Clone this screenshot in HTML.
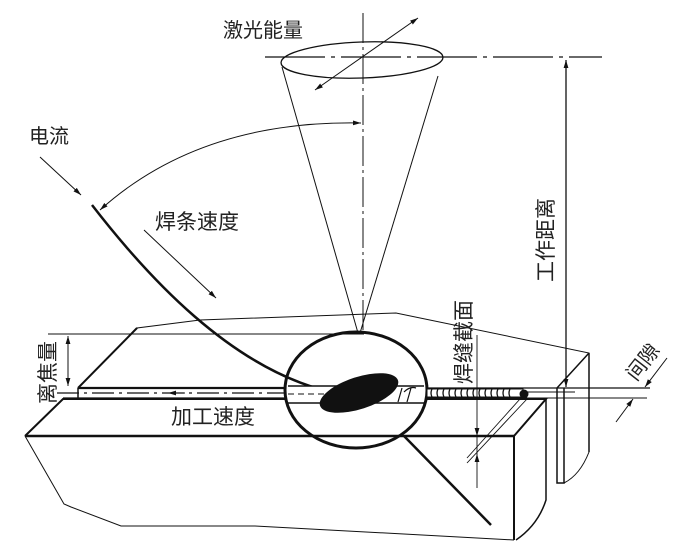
<!DOCTYPE html>
<html><head><meta charset="utf-8"><style>
html,body{margin:0;padding:0;background:#fff;}
svg{display:block;}
text{font-family:"Liberation Sans","Noto Sans CJK SC",sans-serif;fill:#222;}
</style></head><body>
<svg width="696" height="549" viewBox="0 0 696 549" xmlns="http://www.w3.org/2000/svg">
<defs>
<marker id="a" viewBox="0 0 10 10" refX="10" refY="5" markerWidth="8" markerHeight="8" orient="auto-start-reverse" markerUnits="userSpaceOnUse"><path d="M0,2 L10,5 L0,8 z" fill="#111"/></marker>
</defs>
<g fill="none" stroke="#111">
<!-- upper block -->
<path d="M78,388 L137,328 L200,320 L396,313 L589,353 L589,452 Q580,475 564,483" stroke-width="1"/>
<path d="M78,388 L137,328" stroke-width="2"/>
<path d="M557,388 L589,353" stroke-width="1.5"/>
<path d="M557,388 L557,483 L564,483 L564,388" stroke-width="1.5"/>
<path d="M589,353 L589,452" stroke-width="1.5"/>
<!-- seam lines -->
<line x1="78" y1="388" x2="285" y2="388" stroke-width="2.2"/>
<line x1="427" y1="388" x2="650" y2="388" stroke-width="1.2"/>
<line x1="57" y1="393" x2="285" y2="393" stroke-width="1.2" stroke-dasharray="22,5,3,5"/>
<line x1="427" y1="392" x2="575" y2="392" stroke-width="1"/>
<line x1="63" y1="398" x2="285" y2="398" stroke-width="1.2"/>
<line x1="427" y1="398" x2="647" y2="398" stroke-width="1"/>
<line x1="78" y1="388" x2="78" y2="398" stroke-width="1.5"/>
<!-- lower block -->
<path d="M25,436 L63,399 L546,399 L514,436" stroke-width="2"/>
<line x1="25" y1="436" x2="514" y2="436" stroke-width="2.5"/>
<line x1="514" y1="436" x2="514" y2="540" stroke-width="2"/>
<path d="M546,399 L546,500 Q538,525 516,540" stroke-width="1.5"/>
<path d="M25,436 L64,504 L71,507 L121,526 L255,526 L514,540" stroke-width="1"/>
<!-- dimension 离焦量 -->
<line x1="48" y1="334" x2="364" y2="334" stroke-width="0.9"/>
<line x1="68" y1="336" x2="68" y2="386" stroke-width="1" marker-start="url(#a)" marker-end="url(#a)"/>
<!-- laser axis & cone -->
<line x1="363" y1="13" x2="363" y2="333" stroke-width="1" stroke-dasharray="30,4,3,4"/>
<line x1="265" y1="57" x2="602" y2="57" stroke-width="1.3" stroke-dasharray="60,6,4,6"/>
<ellipse cx="362" cy="60" rx="81" ry="18" stroke-width="1.3" transform="rotate(-2 362 60)"/>
<line x1="282" y1="67" x2="358" y2="333" stroke-width="1"/>
<line x1="438" y1="76" x2="360" y2="333" stroke-width="1"/>
<line x1="315" y1="90" x2="418" y2="18" stroke-width="1" marker-start="url(#a)" marker-end="url(#a)"/>
<!-- arc -->
<path d="M361,123 Q200,120 100,210" stroke-width="1" marker-start="url(#a)" marker-end="url(#a)"/>
<!-- 电流 arrow -->
<line x1="40" y1="157" x2="81" y2="195" stroke-width="1" marker-end="url(#a)"/>
<!-- electrode -->
<path d="M92,205 C150,280 230,365 323,390" stroke-width="2.5"/>
<!-- 焊条速度 arrow -->
<line x1="144" y1="230" x2="216" y2="298" stroke-width="1" marker-end="url(#a)"/>
<!-- working distance -->
<line x1="566" y1="60" x2="566" y2="387" stroke-width="1.3" marker-start="url(#a)" marker-end="url(#a)"/>
<!-- circle -->
<rect x="285" y="386" width="142" height="17" fill="#fff" stroke="none"/>
<line x1="288" y1="386" x2="424" y2="386" stroke-width="1.5"/>
<line x1="288" y1="403" x2="424" y2="403" stroke-width="1.5"/>
<line x1="288" y1="394" x2="330" y2="394" stroke-width="1" stroke-dasharray="6,4"/>
<path d="M398,402 L402,388 M407,402 L411,388 M404,392 Q410,386 416,388" stroke-width="1.2"/>
<ellipse cx="356" cy="390" rx="71" ry="58" stroke-width="3"/>
<ellipse cx="359" cy="393" rx="41" ry="16" fill="#111" stroke="none" transform="rotate(-18 359 393)"/>
<line x1="404" y1="436" x2="491" y2="525" stroke-width="2.5"/>
<!-- weld bead -->
<rect x="427" y="389" width="96" height="8" fill="#fff" stroke="#111" stroke-width="1"/>
<path d="M432,389 q-2,4 0,8 M438,389 q-2,4 0,8 M444,389 q-2,4 0,8 M450,389 q-2,4 0,8 M456,389 q-2,4 0,8 M462,389 q-2,4 0,8 M468,389 q-2,4 0,8 M474,389 q-2,4 0,8 M480,389 q-2,4 0,8 M486,389 q-2,4 0,8 M492,389 q-2,4 0,8 M498,389 q-2,4 0,8 M504,389 q-2,4 0,8 M510,389 q-2,4 0,8" stroke-width="1.3"/>
<circle cx="524" cy="394" r="4.5" fill="#111" stroke="none"/>
<!-- 焊缝截面 dimension -->
<line x1="477" y1="335" x2="477" y2="488" stroke-width="0.9"/>
<line x1="477" y1="428" x2="477" y2="436" stroke-width="1" marker-end="url(#a)"/>
<line x1="477" y1="462" x2="477" y2="454" stroke-width="1" marker-end="url(#a)"/>
<line x1="467" y1="458" x2="520" y2="399" stroke-width="0.9"/>
<line x1="467" y1="463" x2="527" y2="399" stroke-width="0.9"/>
<!-- 间隙 -->
<line x1="667" y1="358" x2="645" y2="387" stroke-width="1" marker-end="url(#a)"/>
<line x1="616" y1="422" x2="633" y2="399" stroke-width="1" marker-end="url(#a)"/>
<!-- 加工速度 arrow -->
<line x1="185" y1="393" x2="168" y2="393" stroke-width="1" marker-end="url(#a)"/>
</g>
<text x="223" y="37" font-size="20">激光能量</text>
<text x="29" y="143" font-size="20">电流</text>
<text x="155" y="229" font-size="21">焊条速度</text>
<text x="171" y="424" font-size="21">加工速度</text>
<text transform="translate(553,282) rotate(-90)" font-size="21">工作距离</text>
<text transform="translate(471,384) rotate(-90)" font-size="21">焊缝截面</text>
<text transform="translate(55,404) rotate(-90)" font-size="21">离焦量</text>
<text transform="translate(636,382) rotate(-52)" font-size="20">间隙</text>
</svg>
</body></html>
